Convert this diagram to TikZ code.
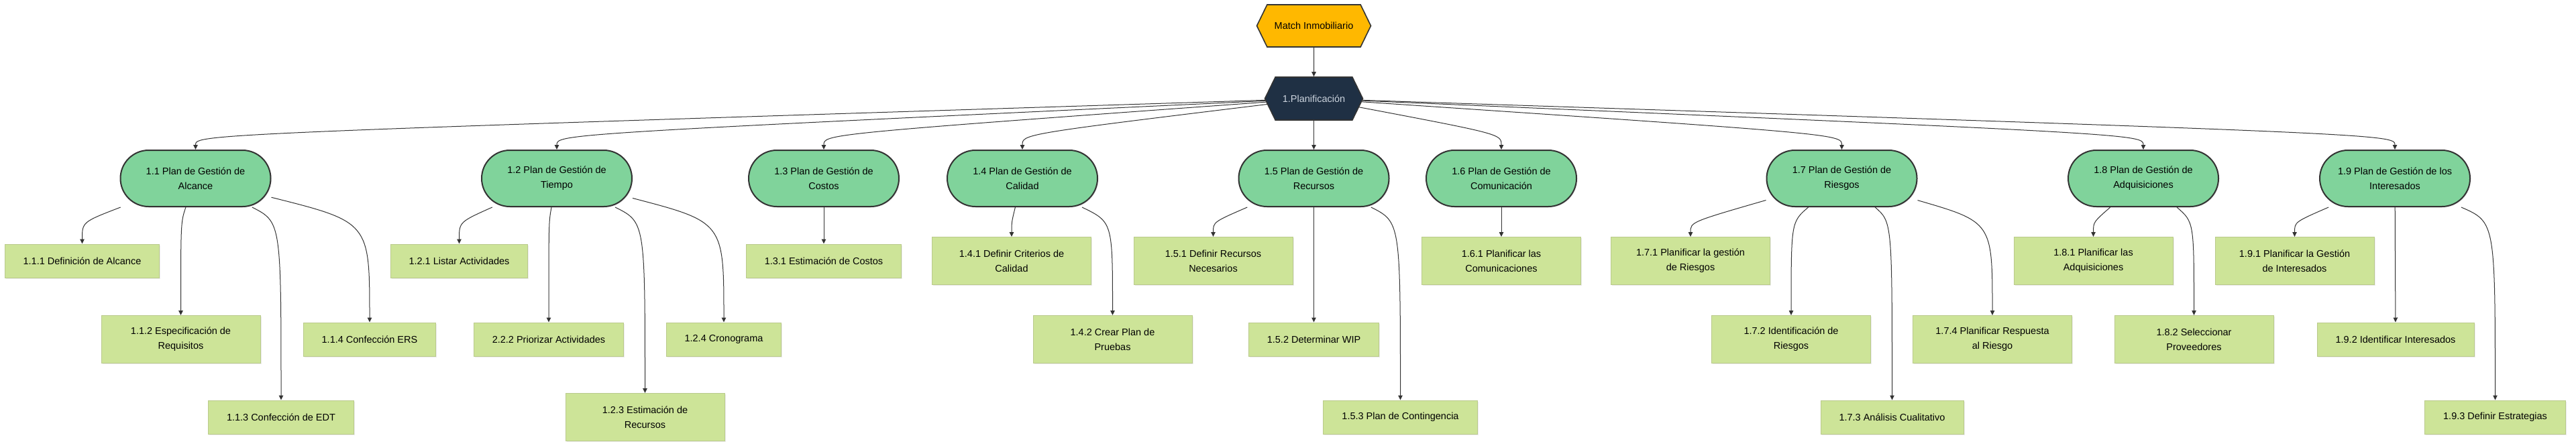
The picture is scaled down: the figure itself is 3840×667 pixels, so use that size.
\documentclass[tikz,border=0pt]{standalone}
\usepackage{fontspec}
\setmainfont{Liberation Sans}
\usepackage{tikz}
\usetikzlibrary{positioning,arrows.meta,shapes.symbols,shadows}
\definecolor{rootfill}{RGB}{255,184,0}
\definecolor{planfill}{RGB}{31,48,68}
\definecolor{plantext}{RGB}{204,212,222}
\definecolor{pgfill}{RGB}{128,211,155}
\definecolor{leaffill}{RGB}{205,228,152}
\definecolor{leafline}{RGB}{186,202,140}
\definecolor{linec}{RGB}{51,51,51}

\begin{document}
\begin{tikzpicture}[
  x=1pt, y=-1pt,
  font=\fontsize{14.5}{21.7}\selectfont,
  hexa/.style={shape=signal,signal to=west and east,signal pointer angle=128,draw=linec,line width=1.6pt,inner sep=0pt,align=center},
  pg/.style={draw=linec,line width=2pt,fill=pgfill,rounded corners=42pt,align=center,minimum width=224pt,minimum height=84pt,inner sep=0pt,
    drop shadow={shadow xshift=1.5pt,shadow yshift=-1.5pt,opacity=0.15}},
  leaf/.style={draw=leafline,line width=1pt,fill=leaffill,align=center,inner xsep=27.5pt,inner ysep=3pt,minimum height=50pt,
    drop shadow={shadow xshift=1.5pt,shadow yshift=-1.5pt,opacity=0.15}},
  leaf2/.style={leaf,minimum width=237pt,minimum height=71pt},
  link/.style={draw=linec,line width=1pt,-{Triangle[length=7pt,width=6.5pt]}},
]
  \useasboundingbox (0,0) rectangle (3840,667);
  \coordinate (lv1) at (0,200);
  \coordinate (lv2) at (0,331);

  \node[hexa,fill=rootfill,minimum width=170pt,minimum height=63pt] (match) at (1958.5,38.5) {Match Inmobiliario};
  \node[hexa,fill=planfill,text=plantext,minimum width=146pt,minimum height=64pt] (plan) at (1958.5,147) {1.Planificación};

  \node[pg] (alcance) at (291.5,266) {1.1 Plan de Gestión de\\Alcance};
  \node[pg] (tiempo) at (830,266) {1.2 Plan de Gestión de\\Tiempo};
  \node[pg] (costos) at (1228,266) {1.3 Plan de Gestión de\\Costos};
  \node[pg] (calidad) at (1524,266) {1.4 Plan de Gestión de\\Calidad};
  \node[pg] (recursos) at (1958.5,266) {1.5 Plan de Gestión de\\Recursos};
  \node[pg] (comun) at (2238,266) {1.6 Plan de Gestión de\\Comunicación};
  \node[pg] (riesgos) at (2745.5,266) {1.7 Plan de Gestión de\\Riesgos};
  \node[pg] (adq) at (3195,266) {1.8 Plan de Gestión de\\Adquisiciones};
  \node[pg] (inter) at (3570,266) {1.9 Plan de Gestión de los\\Interesados};

  \node[leaf] (alc1) at (122.5,389) {1.1.1 Definición de Alcance};
  \node[leaf2] (alc2) at (269.5,506) {1.1.2 Especificación de\\Requisitos};
  \node[leaf] (alc3) at (419,622) {1.1.3 Confección de EDT};
  \node[leaf] (alc4) at (551,506) {1.1.4 Confección ERS};
  \node[leaf] (tie1) at (684.5,389) {1.2.1 Listar Actividades};
  \node[leaf] (tie2) at (818,506) {2.2.2 Priorizar Actividades};
  \node[leaf2] (tie3) at (961.5,622) {1.2.3 Estimación de\\Recursos};
  \node[leaf] (tie4) at (1079,506) {1.2.4 Cronograma};
  \node[leaf] (cos1) at (1228,389) {1.3.1 Estimación de Costos};
  \node[leaf2] (cal1) at (1508,389) {1.4.1 Definir Criterios de\\Calidad};
  \node[leaf2] (cal2) at (1658.5,506) {1.4.2 Crear Plan de\\Pruebas};
  \node[leaf2] (rec1) at (1808.5,389) {1.5.1 Definir Recursos\\Necesarios};
  \node[leaf] (rec2) at (1958.5,506) {1.5.2 Determinar WIP};
  \node[leaf] (rec3) at (2087.5,622) {1.5.3 Plan de Contingencia};
  \node[leaf2] (com1) at (2238,389) {1.6.1 Planificar las\\Comunicaciones};
  \node[leaf2] (rie1) at (2520,389) {1.7.1 Planificar la gestión\\de Riesgos};
  \node[leaf2] (rie2) at (2670,506) {1.7.2 Identificación de\\Riesgos};
  \node[leaf] (rie3) at (2820.5,622) {1.7.3 Análisis Cualitativo};
  \node[leaf2] (rie4) at (2970,506) {1.7.4 Planificar Respuesta\\al Riesgo};
  \node[leaf2] (adq1) at (3120.5,389) {1.8.1 Planificar las\\Adquisiciones};
  \node[leaf2] (adq2) at (3270.5,506) {1.8.2 Seleccionar\\Proveedores};
  \node[leaf2] (int1) at (3420.5,389) {1.9.1 Planificar la Gestión\\de Interesados};
  \node[leaf] (int2) at (3571,506) {1.9.2 Identificar Interesados};
  \node[leaf] (int3) at (3719.5,622) {1.9.3 Definir Estrategias};

  \draw[link] (match) -- (plan);

  \draw[link] (plan) .. controls (alcance |- lv1) .. (alcance);
  \draw[link] (plan) .. controls (tiempo |- lv1) .. (tiempo);
  \draw[link] (plan) .. controls (costos |- lv1) .. (costos);
  \draw[link] (plan) .. controls (calidad |- lv1) .. (calidad);
  \draw[link] (plan) -- (recursos);
  \draw[link] (plan) .. controls (comun |- lv1) .. (comun);
  \draw[link] (plan) .. controls (riesgos |- lv1) .. (riesgos);
  \draw[link] (plan) .. controls (adq |- lv1) .. (adq);
  \draw[link] (plan) .. controls (inter |- lv1) .. (inter);

  \draw[link] (alcance) .. controls (alc1 |- lv2) .. (alc1);
  \draw[link] (alcance) .. controls (alc2 |- lv2) .. (alc2);
  \draw[link] (alcance) .. controls (alc3 |- lv2) .. (alc3);
  \draw[link] (alcance) .. controls (alc4 |- lv2) .. (alc4);
  \draw[link] (tiempo) .. controls (tie1 |- lv2) .. (tie1);
  \draw[link] (tiempo) .. controls (tie2 |- lv2) .. (tie2);
  \draw[link] (tiempo) .. controls (tie3 |- lv2) .. (tie3);
  \draw[link] (tiempo) .. controls (tie4 |- lv2) .. (tie4);
  \draw[link] (costos) -- (cos1);
  \draw[link] (calidad) .. controls (cal1 |- lv2) .. (cal1);
  \draw[link] (calidad) .. controls (cal2 |- lv2) .. (cal2);
  \draw[link] (recursos) .. controls (rec1 |- lv2) .. (rec1);
  \draw[link] (recursos) -- (rec2);
  \draw[link] (recursos) .. controls (rec3 |- lv2) .. (rec3);
  \draw[link] (comun) -- (com1);
  \draw[link] (riesgos) .. controls (rie1 |- lv2) .. (rie1);
  \draw[link] (riesgos) .. controls (rie2 |- lv2) .. (rie2);
  \draw[link] (riesgos) .. controls (rie3 |- lv2) .. (rie3);
  \draw[link] (riesgos) .. controls (rie4 |- lv2) .. (rie4);
  \draw[link] (adq) .. controls (adq1 |- lv2) .. (adq1);
  \draw[link] (adq) .. controls (adq2 |- lv2) .. (adq2);
  \draw[link] (inter) .. controls (int1 |- lv2) .. (int1);
  \draw[link] (inter) -- (int2);
  \draw[link] (inter) .. controls (int3 |- lv2) .. (int3);
\end{tikzpicture}
\end{document}
